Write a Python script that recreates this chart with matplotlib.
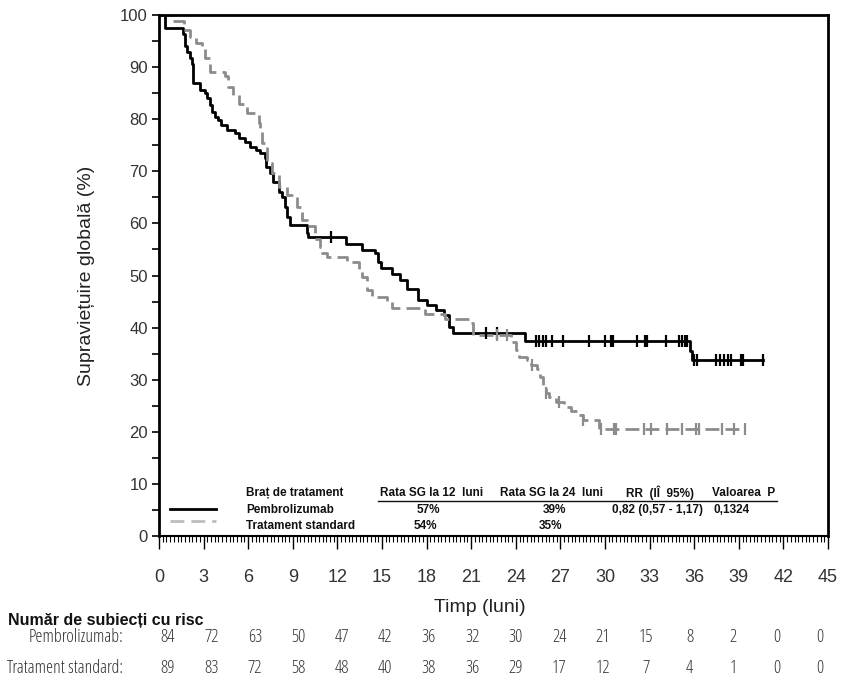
"""
Kaplan-Meier overall survival: Pembrolizumab vs Tratament standard,
with the summary table inside the plot and number-at-risk rows below.
"""

import numpy as np
import matplotlib
matplotlib.use("Agg")
import matplotlib.pyplot as plt
from matplotlib.lines import Line2D
from matplotlib.ticker import MultipleLocator
from matplotlib.transforms import blended_transform_factory

plt.rcParams['font.family'] = ['Liberation Sans', 'DejaVu Sans']
# condensed face for the at-risk rows (the original uses a narrow font)
NARROW = dict(family=['Open Sans', 'DejaVu Sans'], stretch='condensed')

# ---- data ----
# Pembrolizumab (black, solid): step times (months) and survival (%) after each step
pem_t = [0, 0.4, 1.6, 1.75, 1.9, 2.1, 2.2, 2.3, 2.75, 3.1, 3.2, 3.45, 3.55, 3.8,
         4.0, 4.2, 4.55, 5.1, 5.35, 5.8, 6.1, 6.55, 6.8, 7.1, 7.2, 7.45, 7.7,
         8.1, 8.25, 8.5, 8.6, 8.8, 9.95, 10.05, 12.6, 13.65, 14.55, 14.75, 14.9,
         15.7, 16.2, 16.7, 17.45, 18.0, 18.6, 19.15, 19.5, 19.8, 24.6, 35.75, 35.85]
pem_s = [100, 97.6, 96.4, 94.0, 92.9, 91.7, 90.5, 87.0, 85.7, 85.0, 84.0, 82.7, 81.4, 80.5,
         79.8, 78.9, 77.9, 77.3, 76.3, 75.7, 74.7, 74.1, 73.5, 72.5, 70.9, 69.6, 68.0,
         66.1, 65.1, 63.2, 61.3, 59.7, 58.1, 57.3, 56.0, 54.9, 54.3, 52.6, 51.4,
         50.3, 49.1, 47.5, 45.3, 44.3, 43.4, 42.4, 40.2, 39.0, 37.5, 35.5, 33.8]
pem_end = 40.6
pem_cens = [11.6, 22.0, 22.75, 25.35, 25.55, 25.8, 26.0, 26.45, 27.15, 28.95, 30.0,
            30.4, 30.55, 32.15, 32.7, 32.8, 34.1, 35.0, 35.2, 35.35, 35.5, 36.0,
            36.2, 37.45, 37.75, 38.0, 38.25, 38.5, 39.15, 39.3, 40.6]

# Tratament standard (grey, dashed)
std_t = [0, 0.95, 1.65, 2.1, 2.5, 2.9, 3.1, 3.45, 4.45, 4.65, 5.0, 5.35, 5.7, 5.9,
         6.7, 6.8, 6.95, 7.25, 7.6, 8.05, 8.6, 9.3, 9.6, 9.95, 10.5, 10.85, 10.95,
         11.3, 12.65, 13.45, 13.65, 14.0, 14.3, 15.35, 15.7, 17.9, 19.25, 20.95,
         21.1, 23.65, 24.0, 24.2, 24.75, 25.0, 25.45, 25.65, 25.8, 26.0, 26.2, 26.7,
         27.25, 27.7, 28.15, 28.5, 29.6]
std_s = [100, 98.9, 97.1, 95.8, 94.7, 93.6, 91.7, 89.1, 88.2, 86.2, 84.6, 83.0, 82.4, 81.1,
         79.2, 77.6, 75.5, 71.5, 69.6, 67.0, 65.5, 63.2, 60.7, 59.5, 57.1, 55.5, 54.3,
         53.6, 52.6, 51.1, 49.8, 47.2, 45.9, 45.0, 43.7, 42.7, 41.6, 40.8,
         38.6, 37.3, 35.7, 34.4, 33.8, 32.8, 32.0, 30.6, 28.7, 27.4, 26.7, 25.8,
         24.8, 23.9, 23.2, 22.3, 20.6]
std_end = 39.4
std_cens = [22.75, 23.4, 25.1, 26.0, 26.9, 28.55, 29.7, 30.6, 30.75, 32.6, 33.1,
            34.2, 35.2, 36.1, 36.3, 37.9, 38.7, 39.4]

# number at risk
risk_times = [0, 3, 6, 9, 12, 15, 18, 21, 24, 27, 30, 33, 36, 39, 42, 45]
risk_pem = [84, 72, 63, 50, 47, 42, 36, 32, 30, 24, 21, 15, 8, 2, 0, 0]
risk_std = [89, 83, 72, 58, 48, 40, 38, 36, 29, 17, 12, 7, 4, 1, 0, 0]

# summary table
tab_header = ["Braț de tratament", "Rata SG la 12  luni", "Rata SG la 24  luni",
              "RR  (IÎ  95%)", "Valoarea  P"]
tab_pem = ["Pembrolizumab", "57%", "39%", "0,82 (0,57 - 1,17)", "0,1324"]
tab_std = ["Tratament standard", "54%", "35%", "", ""]

BLACK = "#000000"
GREY = "#8c8c8c"


def surv_at(times, surv, x):
    """Survival of a step curve at time x (right-continuous)."""
    idx = np.searchsorted(times, x, side='right') - 1
    return np.asarray(surv)[idx]


W, H = 852, 691
fig = plt.figure(figsize=(W / 100, H / 100), dpi=100)
ax = fig.add_axes([159 / W, 1 - 536 / H, (828 - 159) / W, (536 - 15) / H])

# curves
ax.step(pem_t + [pem_end], pem_s + [pem_s[-1]], where='post', color=BLACK, lw=2)
ax.step(std_t + [std_end], std_s + [std_s[-1]], where='post', color=GREY, lw=2,
        dashes=(5, 2.2))

# censor marks
ax.plot(pem_cens, surv_at(pem_t, pem_s, pem_cens), ls='none', marker='|',
        ms=9, mew=1.6, color=BLACK)
ax.plot(std_cens, surv_at(std_t, std_s, std_cens), ls='none', marker='|',
        ms=9, mew=1.6, color=GREY)

# axes
ax.set_xlim(0, 45)
ax.set_ylim(0, 100)
ax.xaxis.set_major_locator(MultipleLocator(3))
ax.xaxis.set_minor_locator(MultipleLocator(0.25))
ax.yaxis.set_major_locator(MultipleLocator(10))
ax.yaxis.set_minor_locator(MultipleLocator(5))
ax.tick_params(axis='x', which='major', length=9, width=1, pad=15, labelsize=13,
               labelcolor='#333333')
ax.tick_params(axis='x', which='minor', length=4, width=0.8)
ax.tick_params(axis='y', which='both', length=5, width=1.2, pad=3, labelsize=12,
               labelcolor='#333333')
for side in ['top', 'right', 'left']:
    ax.spines[side].set_linewidth(2)
ax.spines['bottom'].set_linewidth(1.5)

ax.set_ylabel("Supraviețuire globală (%)", fontsize=14, labelpad=18, color='#222222')
fig.text(480 / W, 1 - 607 / H, "Timp (luni)", fontsize=14, ha='center', va='center',
         color='#222222')


# summary table inside the plot (positions given in reference pixels)
def ax_xy(px, py):
    return ((px - 159) / (828 - 159), (536 - py) / (536 - 15))


tkw = dict(fontsize=8.5, fontweight='bold', va='center', color='#111111')
hy, r1y, r2y = 493, 510, 526
ax.text(*ax_xy(246, hy), tab_header[0], transform=ax.transAxes, ha='left', **tkw)
ax.text(*ax_xy(380, hy), tab_header[1], transform=ax.transAxes, ha='left', **tkw)
ax.text(*ax_xy(500, hy), tab_header[2], transform=ax.transAxes, ha='left', **tkw)
ax.text(*ax_xy(660, hy), tab_header[3], transform=ax.transAxes, ha='center', **tkw)
ax.text(*ax_xy(712, hy), tab_header[4], transform=ax.transAxes, ha='left', **tkw)
ax.add_line(Line2D([ax_xy(378, 0)[0], ax_xy(777, 0)[0]], [ax_xy(0, 501)[1]] * 2,
                   transform=ax.transAxes, color='#111111', lw=1))

cols = [(246, 'left'), (428, 'center'), (554, 'center'), (612, 'left'), (714, 'left')]
for (px, ha), v1, v2 in zip(cols, tab_pem, tab_std):
    ax.text(*ax_xy(px, r1y), v1, transform=ax.transAxes, ha=ha, **tkw)
    if v2:
        ax.text(*ax_xy(px - 3 if ha == 'center' else px, r2y), v2,
                transform=ax.transAxes, ha=ha, **tkw)

ax.add_line(Line2D([ax_xy(170, 0)[0], ax_xy(216, 0)[0]], [ax_xy(0, 509)[1]] * 2,
                   transform=ax.transAxes, color=BLACK, lw=2))
ax.add_line(Line2D([ax_xy(170, 0)[0], ax_xy(216, 0)[0]], [ax_xy(0, 521)[1]] * 2,
                   transform=ax.transAxes, color='#bdbdbd', lw=2, dashes=(5, 2.5)))

# number at risk
rt = fig.add_axes([168 / W, 0, (820 - 168) / W, 0.2])
rt.set_xlim(0, 45)
rt.axis('off')
tr = blended_transform_factory(rt.transData, fig.transFigure)
rkw = dict(fontsize=13, va='center', color='#333333', **NARROW)
fig.text(8 / W, 1 - 620 / H, "Număr de subiecți cu risc", fontsize=11.5,
         fontweight='bold', ha='left', va='center', color='#111111')
fig.text(123 / W, 1 - 637 / H, "Pembrolizumab:", ha='right', **rkw)
fig.text(123 / W, 1 - 668 / H, "Tratament standard:", ha='right', **rkw)
for t, a, b in zip(risk_times, risk_pem, risk_std):
    fig.text(t, 1 - 637 / H, str(a), transform=tr, ha='center', **rkw)
    fig.text(t, 1 - 668 / H, str(b), transform=tr, ha='center', **rkw)

fig.savefig("out.png", dpi=100)
